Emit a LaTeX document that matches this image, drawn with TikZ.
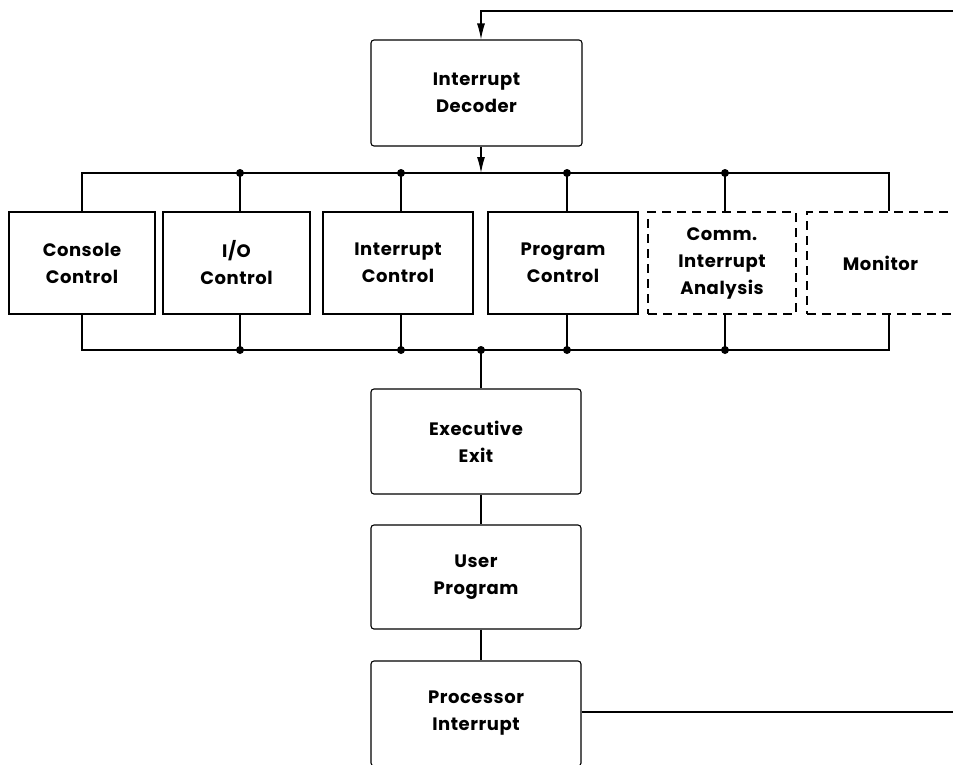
\documentclass[tikz,border=0pt]{standalone}
\usepackage{fontspec}
\setmainfont{Poppins}[LetterSpace=3.0]
\usetikzlibrary{arrows.meta}
\begin{document}
\begin{tikzpicture}[x=1pt,y=-1pt,
  wire/.style={line width=1.1pt},
  tip/.style={-{Latex[length=16pt,width=8pt]}},
  lbl/.style={align=center,inner sep=0pt,font=\fontsize{18}{27}\selectfont\bfseries},
  rbox/.style={lbl,draw,line width=1.1pt,rounded corners=3pt},
  sbox/.style={lbl,draw,line width=1.1pt},
  dbox/.style={lbl,draw,line width=1.1pt,dash pattern=on 9pt off 6pt},
  dot/.style={circle,fill,inner sep=0pt,minimum size=8pt}]
\useasboundingbox (0,0) rectangle (953,764);
% nodes
\node[rbox,minimum width=211pt,minimum height=106pt] (dec) at (476.5,93) {Interrupt\\Decoder};
\node[sbox,minimum width=146pt,minimum height=102pt] (con) at (82,263) {Console\\Control};
\node[sbox,minimum width=147pt,minimum height=102pt] (io) at (236.5,263) {I/O\\Control};
\node[sbox,minimum width=150pt,minimum height=102pt] (ictl) at (398,263) {Interrupt\\Control};
\node[sbox,minimum width=150pt,minimum height=102pt] (pctl) at (563,263) {Program\\Control};
\node[dbox,minimum width=148pt,minimum height=102pt] (comm) at (722,263) {Comm.\\Interrupt\\Analysis};
\node[dbox,minimum width=147pt,minimum height=102pt] (mon) at (880.5,263) {Monitor};
\node[rbox,minimum width=210pt,minimum height=105pt] (exe) at (476,441.5) {Executive\\Exit};
\node[rbox,minimum width=210pt,minimum height=104pt] (usr) at (476,577) {User\\Program};
\node[rbox,minimum width=210pt,minimum height=105pt] (proc) at (476,713.5) {Processor\\Interrupt};
% coordinates
\coordinate (tl) at (82,173);
\coordinate (tr) at (889,173);
\coordinate (bl) at (82,350);
\coordinate (br) at (889,350);
\coordinate (t1) at (240,173);
\coordinate (t2) at (401,173);
\coordinate (t3) at (567,173);
\coordinate (t4) at (725,173);
\coordinate (tin) at (481,173);
\coordinate (b1) at (240,350);
\coordinate (b2) at (401,350);
\coordinate (b3) at (567,350);
\coordinate (b4) at (725,350);
\coordinate (bout) at (481,350);
\coordinate (fbtop) at (953,11);
\coordinate (fbc) at (481,11);
\coordinate (fbbot) at (953,712);
% buses
\draw[wire] (con.north) -- (tl) -- (tr) -- (mon.north -| tr);
\draw[wire] (con.south) -- (bl) -- (br) -- (mon.south -| br);
\foreach \n/\t/\b in {io/t1/b1,ictl/t2/b2,pctl/t3/b3,comm/t4/b4}{
  \draw[wire] (\n.north -| \t) -- (\t);
  \draw[wire] (\n.south -| \b) -- (\b);
  \node[dot] at (\t) {};
  \node[dot] at (\b) {};
}
\draw[wire,tip] (dec.south -| tin) -- (tin);
\draw[wire] (bout) -- (exe.north -| bout);
\node[dot] at (bout) {};
\draw[wire] (exe.south -| bout) -- (usr.north -| bout);
\draw[wire] (usr.south -| bout) -- (proc.north -| bout);
\draw[wire] (proc.east |- fbbot) -- (fbbot);
\draw[wire,tip] (fbtop) -- (fbc) -- (dec.north -| fbc);
\end{tikzpicture}
\end{document}
